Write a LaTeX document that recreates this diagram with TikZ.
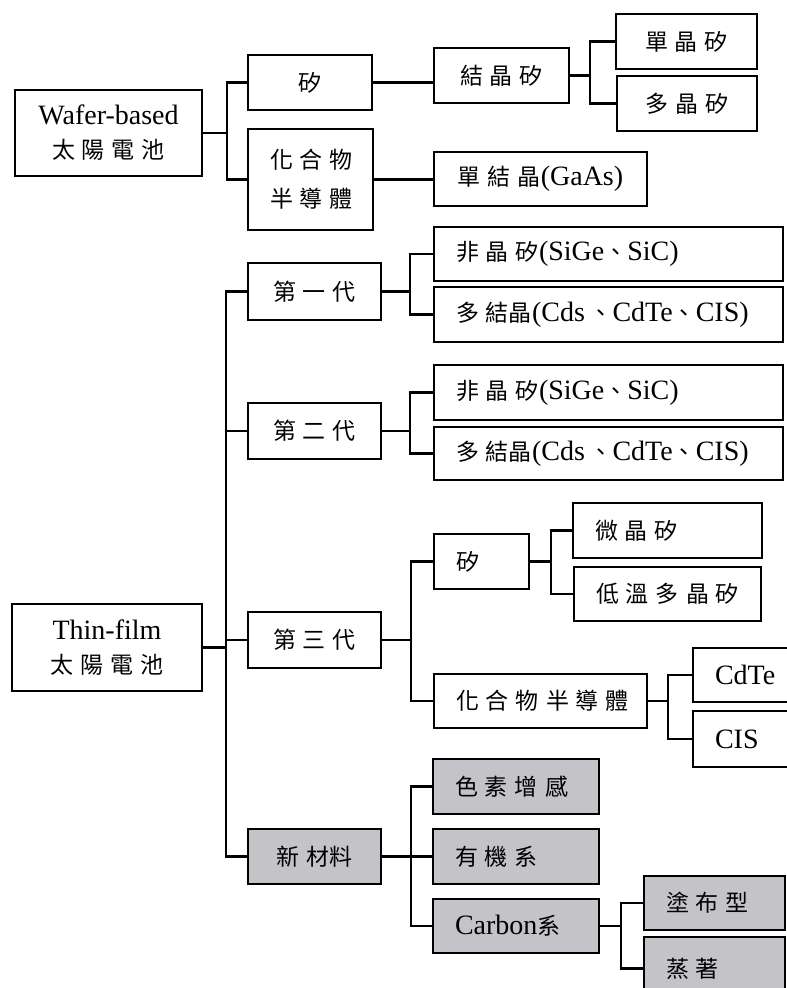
\documentclass[tikz,border=0pt]{standalone}
\usepackage{fontspec}
\setmainfont{Liberation Serif}
\newfontfamily\cjkfont{Noto Sans CJK TC}
\newcommand\gp{\hspace{7pt}}
\newcommand\cj[1]{{\cjkfont\fontsize{23}{28}\selectfont #1}}
\definecolor{boxgray}{RGB}{196,196,200}
\tikzset{
  box/.style={draw=black, line width=2.2pt, rectangle, inner ysep=0pt, inner xsep=22pt,
    font=\fontsize{28}{34}\selectfont},
  gbox/.style={box, fill=boxgray},
  conn/.style={draw=black, line width=2.2pt}
}
% #1 options, #2 name, #3 x1, #4 y1, #5 x2, #6 y2, #7 text
\newcommand\bx[7][align=left]{%
  \pgfmathsetmacro\mybw{#5-#3}\pgfmathsetmacro\mybh{#6-#4}\pgfmathsetmacro\mytw{#5-#3-44}%
  \node[box,minimum width=\mybw pt,minimum height=\mybh pt,text width=\mytw pt,#1] (#2) at ({(#3+#5)/2},{(#4+#6)/2}) {#7};}
\begin{document}
\begin{tikzpicture}[x=1pt,y=-1pt]
\useasboundingbox (0,0) rectangle (787,988);
\clip (0,0) rectangle (787,988);
% wafer-based branch
\bx[align=center]{wafer}{15}{90}{202}{176}{\mbox{Wafer-based}\\\mbox{\cj{太\gp 陽\gp 電\gp 池}}}
\bx[align=center]{si1}{248}{55}{372}{110}{\cj{矽}}
\bx[align=center]{comp1}{248}{129}{373}{230}{\mbox{\cj{化\gp 合\gp 物}}\\[5pt]\mbox{\cj{半\gp 導\gp 體}}}
\bx[align=center]{jjsi}{434}{48}{569}{103}{\mbox{\cj{結\gp 晶\gp 矽}}}
\bx[align=center]{dan}{616}{14}{757}{69}{\mbox{\cj{單\gp 晶\gp 矽}}}
\bx[align=center]{duo}{617}{76}{757}{131}{\mbox{\cj{多\gp 晶\gp 矽}}}
\bx[align=center]{gaas}{434}{152}{647}{206}{\mbox{\cj{單\gp 結\gp 晶}(GaAs)}}
% thin-film branch
\bx[align=center]{thin}{12}{604}{202}{691}{\mbox{Thin-film}\\\mbox{\cj{太\gp 陽\gp 電\gp 池}}}
\bx[align=center]{g1}{248}{263}{381}{320}{\mbox{\cj{第\gp 一\gp 代}}}
\bx{a1}{434}{227}{783}{281}{\mbox{\cj{非\gp 晶\gp 矽}(SiGe\cj{、}SiC)}}
\bx{p1}{434}{287}{783}{342}{\mbox{\cj{多\gp 結晶}(Cds\,\cj{、}CdTe\cj{、}CIS)}}
\bx[align=center]{g2}{248}{403}{381}{459}{\mbox{\cj{第\gp 二\gp 代}}}
\bx{a2}{434}{365}{783}{420}{\mbox{\cj{非\gp 晶\gp 矽}(SiGe\cj{、}SiC)}}
\bx{p2}{434}{427}{783}{480}{\mbox{\cj{多\gp 結晶}(Cds\,\cj{、}CdTe\cj{、}CIS)}}
\bx[align=center]{g3}{248}{612}{381}{668}{\mbox{\cj{第\gp 三\gp 代}}}
\bx{si3}{434}{534}{529}{589}{\cj{矽}}
\bx{wj}{573}{503}{762}{558}{\mbox{\cj{微\gp 晶\gp 矽}}}
\bx{dw}{574}{567}{761}{621}{\mbox{\cj{低\gp 溫\gp 多\gp 晶\gp 矽}}}
\bx{comp3}{434}{674}{647}{728}{\mbox{\cj{化\gp 合\gp 物\gp 半\gp 導\gp 體}}}
\bx{cdte}{693}{648}{800}{702}{CdTe}
\bx{cis}{693}{711}{800}{767}{CIS}
\bx[align=center,gbox]{new}{248}{829}{381}{884}{\mbox{\cj{新\gp 材料}}}
\bx[gbox]{sesu}{433}{759}{599}{814}{\mbox{\cj{色\gp 素\gp 增\gp 感}}}
\bx[gbox]{yj}{433}{829}{599}{884}{\mbox{\cj{有\gp 機\gp 系}}}
\bx[gbox]{carbon}{433}{899}{599}{953}{\mbox{Carbon\cj{系}}}
\bx[gbox]{tb}{644}{876}{785}{930}{\mbox{\cj{塗\gp 布\gp 型}}}
\bx[gbox]{zz}{644}{937}{785}{1000}{\mbox{\cj{蒸\gp 著}}}
% connectors
\draw[conn] (wafer.east) -- ++(24,0) |- (si1.west);
\draw[conn] (wafer.east) -- ++(24,0) |- (comp1.west);
\draw[conn] (si1.east) -- (si1.east -| jjsi.west);
\draw[conn] (comp1.east) -- (comp1.east -| gaas.west);
\draw[conn] (jjsi.east) -- ++(20,0) |- (dan.west);
\draw[conn] (jjsi.east) -- ++(20,0) |- (duo.west);
\foreach \c in {g1,g2,g3,new}{\draw[conn] (thin.east) -- ++(23,0) |- (\c.west);}
\foreach \c in {a1,p1}{\draw[conn] (g1.east) -- ++(28,0) |- (\c.west);}
\foreach \c in {a2,p2}{\draw[conn] (g2.east) -- ++(28,0) |- (\c.west);}
\foreach \c in {si3,comp3}{\draw[conn] (g3.east) -- ++(29,0) |- (\c.west);}
\foreach \c in {wj,dw}{\draw[conn] (si3.east) -- ++(21,0) |- (\c.west);}
\foreach \c in {cdte,cis}{\draw[conn] (comp3.east) -- ++(20,0) |- (\c.west);}
\foreach \c in {sesu,yj,carbon}{\draw[conn] (new.east) -- ++(29,0) |- (\c.west);}
\foreach \c in {tb,zz}{\draw[conn] (carbon.east) -- ++(21,0) |- (\c.west);}
\end{tikzpicture}
\end{document}
